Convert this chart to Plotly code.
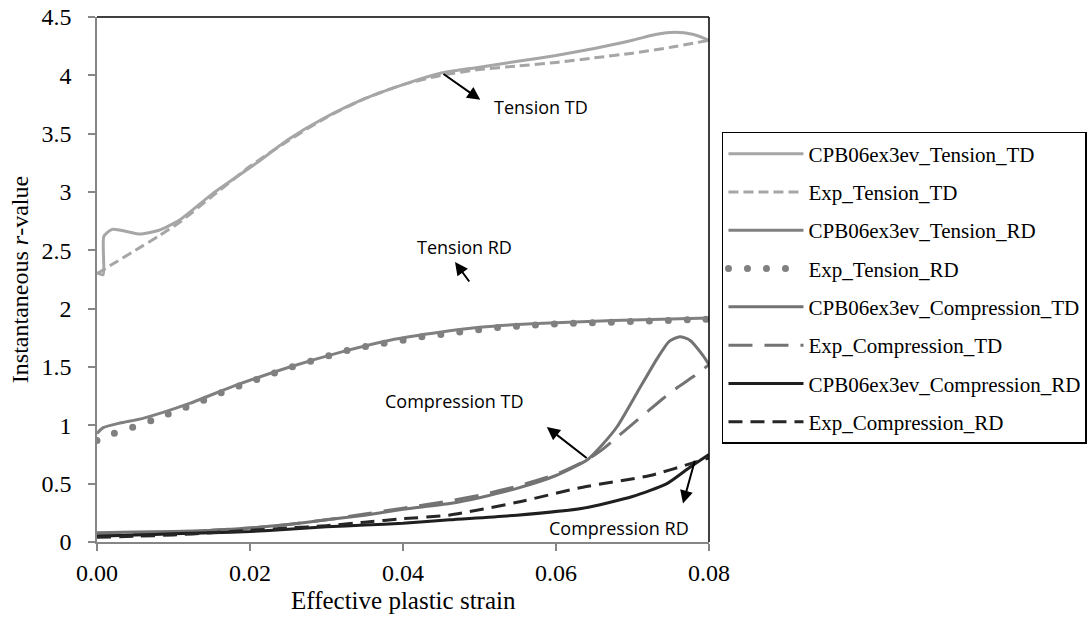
import plotly.graph_objects as go

# ---------------- data ----------------
cpb_tension_td_x = [0, 0.0008, 0.0009, 0.002, 0.004, 0.0056, 0.008, 0.0108, 0.015, 0.0209, 0.025,
                    0.0296, 0.035, 0.0409, 0.045, 0.05, 0.055, 0.06, 0.065, 0.07, 0.073, 0.0755, 0.078, 0.08]
cpb_tension_td_y = [2.31, 2.29, 2.62, 2.68, 2.66, 2.64, 2.67, 2.76, 2.98, 3.25, 3.45,
                    3.63, 3.80, 3.94, 4.02, 4.07, 4.12, 4.17, 4.23, 4.30, 4.35, 4.37, 4.35, 4.30]

exp_tension_td_x = [0, 0.002, 0.005, 0.008, 0.0108, 0.015, 0.02, 0.025, 0.03, 0.035, 0.04,
                    0.045, 0.05, 0.055, 0.06, 0.065, 0.07, 0.075, 0.08]
exp_tension_td_y = [2.30, 2.38, 2.50, 2.62, 2.74, 2.96, 3.22, 3.44, 3.64, 3.80, 3.92,
                    4.00, 4.05, 4.08, 4.11, 4.15, 4.19, 4.24, 4.30]

cpb_tension_rd_x = [0, 0.0008, 0.003, 0.006, 0.0122, 0.018, 0.0252, 0.032, 0.0383, 0.045,
                    0.05, 0.055, 0.06, 0.065, 0.07, 0.075, 0.08]
cpb_tension_rd_y = [0.93, 0.98, 1.02, 1.06, 1.19, 1.34, 1.50, 1.63, 1.73, 1.80,
                    1.84, 1.865, 1.88, 1.893, 1.903, 1.912, 1.92]

exp_tension_rd_x = [0.0, 0.0022, 0.0047, 0.0073, 0.0098, 0.0122, 0.0145, 0.017, 0.0195, 0.022,
                    0.0245, 0.027, 0.0295, 0.032, 0.0347, 0.0373, 0.04, 0.0425, 0.045, 0.0475,
                    0.05, 0.0525, 0.055, 0.0575, 0.06, 0.0625, 0.065, 0.0675, 0.07, 0.0725,
                    0.075, 0.0775, 0.08]
exp_tension_rd_y = [0.87, 0.93, 0.985, 1.045, 1.11, 1.17, 1.23, 1.30, 1.36, 1.42,
                    1.48, 1.53, 1.58, 1.63, 1.67, 1.70, 1.73, 1.76, 1.78, 1.80,
                    1.82, 1.84, 1.85, 1.86, 1.87, 1.875, 1.88, 1.885, 1.89, 1.895,
                    1.90, 1.905, 1.91]

cpb_comp_td_x = [0, 0.005, 0.01, 0.015, 0.02, 0.025, 0.03, 0.035, 0.04, 0.0461, 0.05, 0.0549,
                 0.06, 0.0642, 0.066, 0.068, 0.0706, 0.0732, 0.0748, 0.0762, 0.0775, 0.0792, 0.08]
cpb_comp_td_y = [0.08, 0.085, 0.09, 0.10, 0.12, 0.15, 0.19, 0.23, 0.28, 0.33, 0.38, 0.46,
                 0.57, 0.71, 0.83, 0.99, 1.28, 1.57, 1.72, 1.76, 1.73, 1.60, 1.52]

exp_comp_td_x = [0, 0.005, 0.01, 0.015, 0.02, 0.025, 0.03, 0.035, 0.04, 0.045, 0.05, 0.055,
                 0.06, 0.0642, 0.066, 0.068, 0.07, 0.072, 0.074, 0.076, 0.078, 0.08]
exp_comp_td_y = [0.06, 0.07, 0.08, 0.10, 0.12, 0.15, 0.19, 0.24, 0.29, 0.34, 0.40, 0.48,
                 0.58, 0.71, 0.79, 0.90, 1.01, 1.12, 1.23, 1.33, 1.42, 1.52]

cpb_comp_rd_x = [0, 0.005, 0.01, 0.015, 0.02, 0.025, 0.03, 0.035, 0.04, 0.0461, 0.0549,
                 0.0635, 0.07, 0.0745, 0.0775, 0.08]
cpb_comp_rd_y = [0.05, 0.06, 0.07, 0.08, 0.09, 0.11, 0.13, 0.145, 0.16, 0.19, 0.23,
                 0.29, 0.39, 0.50, 0.64, 0.75]

exp_comp_rd_x = [0, 0.005, 0.01, 0.015, 0.02, 0.025, 0.03, 0.035, 0.04, 0.046, 0.0549,
                 0.0635, 0.0723, 0.078, 0.08]
exp_comp_rd_y = [0.04, 0.05, 0.06, 0.08, 0.10, 0.12, 0.14, 0.17, 0.20, 0.23, 0.34,
                 0.47, 0.57, 0.68, 0.72]

x_ticks = [0, 0.02, 0.04, 0.06, 0.08]
y_ticks = [0, 0.5, 1, 1.5, 2, 2.5, 3, 3.5, 4, 4.5]

# ---------------- figure ----------------
SERIF = "Liberation Serif, Times New Roman, serif"
SANS = "Open Sans, Noto Sans, sans-serif"

series = [
    ("CPB06ex3ev_Tension_TD", cpb_tension_td_x, cpb_tension_td_y, "#A6A6A6", "solid", 3),
    ("Exp_Tension_TD", exp_tension_td_x, exp_tension_td_y, "#A6A6A6", "10px,5px", 3),
    ("CPB06ex3ev_Tension_RD", cpb_tension_rd_x, cpb_tension_rd_y, "#808080", "solid", 3),
    ("Exp_Tension_RD", exp_tension_rd_x, exp_tension_rd_y, "#808080", "0px,19px", 7),
    ("CPB06ex3ev_Compression_TD", cpb_comp_td_x, cpb_comp_td_y, "#737373", "solid", 3),
    ("Exp_Compression_TD", exp_comp_td_x, exp_comp_td_y, "#737373", "24px,12px", 3),
    ("CPB06ex3ev_Compression_RD", cpb_comp_rd_x, cpb_comp_rd_y, "#1F1F1F", "solid", 3),
    ("Exp_Compression_RD", exp_comp_rd_x, exp_comp_rd_y, "#262626", "14px,8px", 3),
]

fig = go.Figure()
for name, xs, ys, col, dash, w in series:
    fig.add_trace(go.Scatter(
        x=xs, y=ys, name=name, mode="lines", legendgroup=name,
        line=dict(color=col, width=w, dash=dash, shape="spline", smoothing=0.6),
    ))

# Plot frame: black top/right border as in the reference
fig.add_shape(type="line", xref="paper", yref="paper", x0=0, x1=1, y0=1, y1=1,
              line=dict(color="black", width=1.5))
fig.add_shape(type="line", xref="paper", yref="paper", x0=1, x1=1, y0=0, y1=1,
              line=dict(color="black", width=1.5))

arrow = dict(showarrow=True, arrowhead=2, arrowsize=1.3, arrowwidth=2, arrowcolor="black",
             axref="x", ayref="y", text="")
fig.add_annotation(x=0.0501, y=3.79, ax=0.0451, ay=4.02, **arrow)
fig.add_annotation(x=0.0468, y=2.40, ax=0.0488, ay=2.22, **arrow)
fig.add_annotation(x=0.0588, y=0.985, ax=0.0642, ay=0.71, **arrow)
fig.add_annotation(x=0.0766, y=0.33, ax=0.0782, ay=0.71, **arrow)

lab = dict(showarrow=False, font=dict(family=SANS, size=18, color="black"))
fig.add_annotation(x=0.058, y=3.73, text="Tension TD", **lab)
fig.add_annotation(x=0.0481, y=2.53, text="Tension RD", **lab)
fig.add_annotation(x=0.0467, y=1.21, text="Compression TD", **lab)
fig.add_annotation(x=0.0682, y=0.12, text="Compression RD", **lab)

# x-axis title placed to match the reference's tight spacing
fig.add_annotation(xref="paper", yref="paper", x=0.5, y=0, yanchor="top", yshift=-43,
                   showarrow=False, text="Effective plastic strain",
                   font=dict(family=SERIF, size=25, color="black"))

fig.update_layout(
    width=1089, height=622,
    margin=dict(l=97, r=380, t=17, b=80, autoexpand=False),
    paper_bgcolor="white", plot_bgcolor="white",
    font=dict(family=SERIF, color="black"),
    showlegend=True,
    legend=dict(
        x=1.0212, y=0.781, xanchor="left", yanchor="top",
        bordercolor="black", borderwidth=1.5, bgcolor="white",
        font=dict(family=SERIF, size=21, color="black"),
        traceorder="grouped", tracegroupgap=8, itemwidth=75,
    ),
    xaxis=dict(
        range=[0, 0.08], tickvals=x_ticks, tickformat=".2f",
        showgrid=False, zeroline=False,
        showline=True, linecolor="#868686", linewidth=1.5,
        ticks="outside", ticklen=7, tickcolor="#868686", tickwidth=1.5,
        tickfont=dict(family=SERIF, size=24, color="black"),
        ticklabelstandoff=1,
    ),
    yaxis=dict(
        range=[0, 4.5], tickvals=y_ticks,
        showgrid=False, zeroline=False,
        showline=True, linecolor="#868686", linewidth=1.5,
        ticks="outside", ticklen=7, tickcolor="#868686", tickwidth=1.5,
        tickfont=dict(family=SERIF, size=24, color="black"),
        ticklabelstandoff=12,
        title=dict(text="Instantaneous <i>r</i>-value", font=dict(family=SERIF, size=24), standoff=6),
    ),
)

post = """
document.querySelectorAll('path').forEach(function(p){
  var d = p.style.strokeDasharray || '';
  if (d.replace(/\\s/g,'').indexOf('0px,19px') === 0) { p.style.strokeLinecap = 'round'; }
});
"""
fig.write_html("out.html", post_script=post)
